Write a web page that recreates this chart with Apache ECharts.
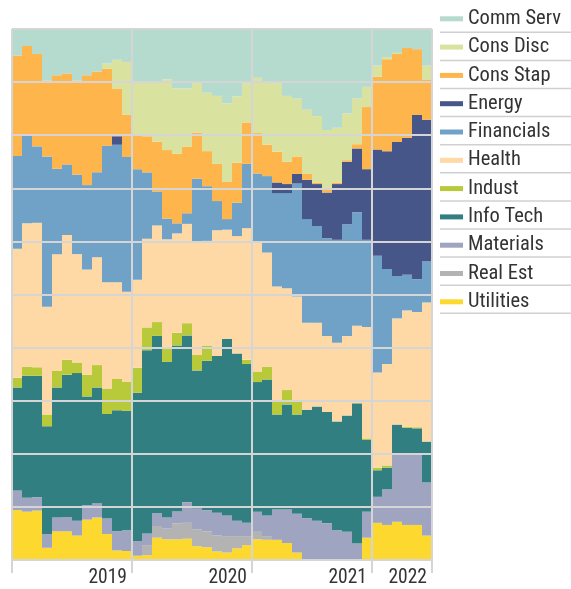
<!DOCTYPE html>
<html><head><meta charset="utf-8">
<script src="https://cdn.jsdelivr.net/npm/echarts@6/dist/echarts.min.js"></script>
<style>html,body{margin:0;padding:0;background:#fff}#c{width:571px;height:589px}</style>
</head><body><div id="c"></div>
<script>
// ---- data ----
const months = [
 '2019-01','2019-02','2019-03','2019-04','2019-05','2019-06','2019-07','2019-08','2019-09','2019-10','2019-11','2019-12',
 '2020-01','2020-02','2020-03','2020-04','2020-05','2020-06','2020-07','2020-08','2020-09','2020-10','2020-11','2020-12',
 '2021-01','2021-02','2021-03','2021-04','2021-05','2021-06','2021-07','2021-08','2021-09','2021-10','2021-11','2021-12',
 '2022-01','2022-02','2022-03','2022-04','2022-05','2022-06'];
const yearLabels = ['2019','2020','2021','2022'];

const utilities   = [9.4,9.1,9.3,2.3,5.4,5.4,4.6,7.6,8.0,4.9,1.8,1.7, 0.8,0.9,4.2,3.9,3.9,4.0,2.6,2.4,1.6,1.4,2.2,2.8, 3.9,3.8,3.8,3.2,1.4,0,0,0,0,0,0,4.2, 7.0,6.6,7.2,6.6,6.6,4.6];
const realEstate  = [0,0,0,0,0,0,0,0,0,0,0,0, 0,1.9,2.2,2.0,3.0,3.0,3.2,3.0,3.0,3.1,2.3,1.7, 1.4,0.7,0,0,0,0,0,0,0,0,0,0, 0,0,0,0,0,0];
const materials   = [3.7,2.6,2.5,2.6,2.6,2.7,2.8,2.7,2.7,2.9,3.6,3.9, 2.8,2.2,2.4,2.1,2.3,3.9,3.9,4.0,4.3,3.9,2.9,2.5, 3.8,3.9,5.7,6.3,7.3,7.9,7.4,6.9,5.6,5.3,3.1,4.9, 4.9,6.7,12.7,13.3,13.3,10.0];
const infoTech    = [19.4,23.0,22.9,20.3,24.5,26.8,27.8,20.5,21.8,19.7,22.8,22.5, 27.9,34.5,33.4,29.3,31.2,31.4,26.0,28.1,29.5,33.2,31.5,29.9, 24.4,25.6,17.9,19.8,18.7,20.4,21.5,21.0,20.5,21.9,26.4,13.5, 5.0,4.1,5.6,5.0,4.9,7.7];
const industrials = [1.8,1.7,1.6,2.2,3.1,2.8,2.0,4.1,4.2,4.8,5.9,5.5, 4.7,4.3,2.6,2.5,2.4,2.3,2.9,2.9,0,0,0,0.8, 1.9,2.4,2.4,2.7,2.4,0,0,0,0,0,0,0.3, 0.5,0.4,0,0.2,0.2,0];
const health      = [24.3,27.0,27.2,20.3,22.0,23.5,20.4,19.8,20.3,20.0,18.2,16.9, 16.6,16.7,18.2,20.6,18.7,18.7,21.1,19.7,23.7,20.6,22.1,24.8, 24.5,21.5,21.7,19.2,19.8,16.4,15.8,14.3,14.8,15.0,14.6,21.0, 17.9,19.1,20.0,21.9,21.7,26.2];
const financials  = [17.5,16.5,14.4,28.3,16.1,13.3,15.0,15.9,16.0,25.7,25.9,25.4, 20.8,12.5,6.4,3.9,1.9,2.0,12.1,10.3,5.5,2.0,6.3,12.1, 12.9,14.4,17.6,17.9,21.3,19.5,18.2,18.4,19.4,21.0,21.4,16.4, 22.0,17.9,8.0,6.7,6.2,7.7];
const energy      = [0,0,0,0,0,0,0,0,0,0,1.6,0, 0,0,0,0,0,0,0,0,0,0,0,0, 0,0,2.0,1.7,1.8,7.4,7.9,8.6,10.5,11.8,12.0,13.3, 20.0,22.2,25.2,25.8,30.9,26.7];
const consStaples = [18.9,16.9,17.4,14.3,17.6,17.1,17.7,20.7,19.0,14.5,8.9,8.0, 6.6,6.8,9.4,12.9,13.1,12.5,8.7,6.6,7.0,7.0,7.5,7.8, 7.6,5.9,5.8,4.2,3.3,1.1,0.3,0.5,0.3,0.3,0.8,11.7, 13.7,17.3,16.6,16.9,12.4,7.5];
const consDisc    = [0,0,0,0,0,0,0,0,0,1.0,5.5,9.9, 9.8,10.2,11.2,13.3,12.3,11.0,9.3,11.0,12.8,14.8,12.5,7.4, 10.4,11.7,12.9,12.4,10.9,12.1,12.5,11.3,10.3,8.8,8.6,3.8, 2.1,0.4,0.2,0,0,2.7];
const commServ    = [5.0,3.2,4.7,9.7,8.7,8.4,9.7,8.7,8.0,6.5,5.8,6.2, 10.0,10.0,10.0,9.5,11.2,11.2,10.2,12.0,12.6,14.0,12.7,10.2, 9.2,10.1,10.2,12.6,13.1,15.2,16.4,19.0,18.6,15.9,13.1,10.9, 6.9,5.3,4.5,3.6,3.8,6.9];

// ---- styling ----
const FONT = "'Liberation Sans Narrow','Roboto Condensed','DejaVu Sans Condensed','Liberation Sans',sans-serif";
const GRID = '#d5d5d5';
const TEXT = '#333333';
const sectors = [
  {name:'Utilities',  data:utilities,   color:'#fdd82f'},
  {name:'Real Est',   data:realEstate,  color:'#b3b3b3'},
  {name:'Materials',  data:materials,   color:'#9fa4c1'},
  {name:'Info Tech',  data:infoTech,    color:'#327f82'},
  {name:'Indust',     data:industrials, color:'#b8c93a'},
  {name:'Health',     data:health,      color:'#fed9a5'},
  {name:'Financials', data:financials,  color:'#70a2c7'},
  {name:'Energy',     data:energy,      color:'#475689'},
  {name:'Cons Stap',  data:consStaples, color:'#fdb54c'},
  {name:'Cons Disc',  data:consDisc,    color:'#d9e29e'},
  {name:'Comm Serv',  data:commServ,    color:'#b5dace'}
];

// year tick positions: end of each year's months
const tickLabel = {};
yearLabels.forEach(y => {
  let last = -1;
  months.forEach((m, i) => { if (m.startsWith(y)) last = i; });
  tickLabel[last + 1] = y;
});

const legendOrder = sectors.map(s => s.name).reverse();

// legend separator lines
const LEG_TOP = 8.3, LEG_STEP = 28.1;
const graphics = legendOrder.map((n, k) => ({
  type:'line', silent:true,
  shape:{x1:440, y1:LEG_TOP + 24 + k*LEG_STEP, x2:571, y2:LEG_TOP + 24 + k*LEG_STEP},
  style:{stroke:'#d0d0d0', lineWidth:1.5}
}));

const chart = echarts.init(document.getElementById('c'), null, {renderer:'canvas'});
chart.setOption({
  animation:false,
  backgroundColor:'#ffffff',
  textStyle:{fontFamily:FONT},
  grid:{left:12, top:29, width:420, height:531, containLabel:false, outerBoundsMode:'none'},
  xAxis:[
    {type:'category', data:months, show:false, boundaryGap:true},
    {type:'value', min:0, max:months.length, interval:12, position:'bottom', z:10,
     axisLine:{show:false},
     axisTick:{show:true, length:13, lineStyle:{color:GRID, width:2}},
     splitLine:{show:true, lineStyle:{color:GRID, width:2}},
     axisLabel:{show:true, showMinLabel:true, showMaxLabel:true, margin:8, align:'right',
       padding:[0,5,0,0], fontSize:19.5, color:TEXT, fontFamily:FONT,
       formatter:v => tickLabel[Math.round(v)] || ''}}
  ],
  yAxis:{type:'value', min:0, max:100, interval:10, z:10,
    axisLabel:{show:false}, axisLine:{show:false}, axisTick:{show:false},
    splitLine:{show:true, lineStyle:{color:GRID, width:2}}},
  legend:{orient:'vertical', left:440, top:LEG_TOP, padding:0, itemGap:7.3,
    itemWidth:23, itemHeight:5, icon:'rect', selectedMode:false,
    itemStyle:{borderWidth:0},
    textStyle:{fontSize:20.5, lineHeight:20, color:TEXT, fontFamily:FONT},
    data:legendOrder},
  graphic:graphics,
  series:sectors.map(s => ({
    name:s.name, type:'bar', stack:'total', xAxisIndex:0, yAxisIndex:0,
    barCategoryGap:'0%', barGap:'0%',
    data:s.data.map(v => v > 0 ? v : '-'),
    itemStyle:{color:s.color, borderWidth:0},
    emphasis:{disabled:true}
  }))
});
</script>
</body></html>
